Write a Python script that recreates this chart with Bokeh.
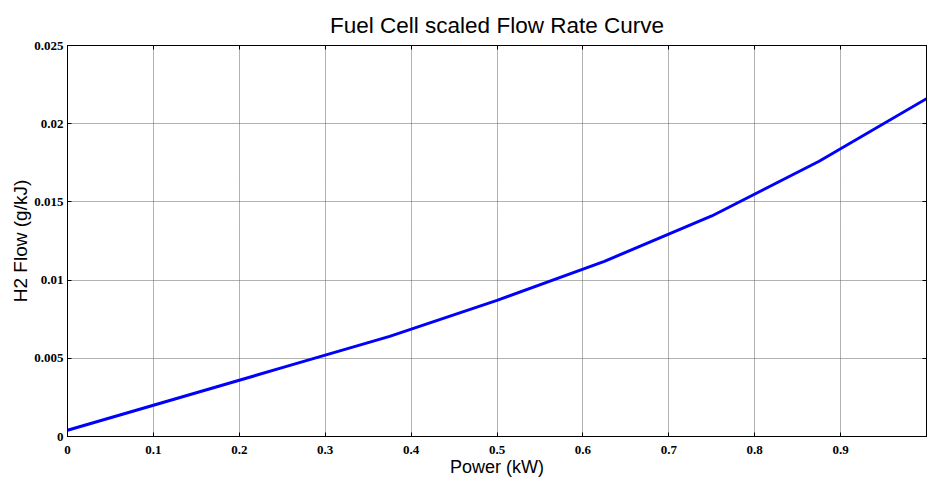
from bokeh.plotting import figure
from bokeh.models import LinearAxis, FixedTicker, Range1d
from bokeh.embed import file_html
from bokeh.resources import INLINE

# ---- data ----
power_kw = [0.0, 0.125, 0.25, 0.375, 0.5, 0.625, 0.75, 0.875, 1.0]
h2_flow = [0.0004, 0.0024, 0.0044, 0.0064, 0.0087, 0.0112, 0.0141, 0.0176, 0.0216]

x_ticks = [0.0, 0.1, 0.2, 0.3, 0.4, 0.5, 0.6, 0.7, 0.8, 0.9]
x_tick_labels = ["0", "0.1", "0.2", "0.3", "0.4", "0.5", "0.6", "0.7", "0.8", "0.9"]
y_ticks = [0.0, 0.005, 0.01, 0.015, 0.02, 0.025]
y_tick_labels = ["0", "0.005", "0.01", "0.015", "0.02", "0.025"]

title_text = "Fuel Cell scaled Flow Rate Curve"
x_label = "Power (kW)"
y_label = "H2 Flow (g/kJ)"

p = figure(width=927, height=479, output_backend="svg", toolbar_location=None,
           x_range=Range1d(0.0, 1.0), y_range=Range1d(0.0, 0.025),
           title=title_text, x_axis_label=x_label, y_axis_label=y_label,
           min_border_left=67, min_border_right=1, min_border_top=45,
           min_border_bottom=40, background_fill_color="white",
           border_fill_color="white")

p.title.text_font = "Liberation Sans"
p.title.text_font_size = "22.5px"
p.title.text_font_style = "normal"
p.title.align = "center"
p.title.text_color = "black"
p.title.standoff = 16

p.outline_line_color = "black"
p.outline_line_width = 1
p.outline_line_alpha = 1.0

tick_font = "Liberation Serif"

for ax in p.xaxis:
    ax.ticker = FixedTicker(ticks=x_ticks)
    ax.major_label_overrides = dict(zip(x_ticks, x_tick_labels))
for ax in p.yaxis:
    ax.ticker = FixedTicker(ticks=y_ticks)
    ax.major_label_overrides = dict(zip(y_ticks, y_tick_labels))

for ax in list(p.xaxis) + list(p.yaxis):
    ax.major_tick_in = 4
    ax.major_tick_out = 0
    ax.minor_tick_in = 0
    ax.minor_tick_out = 0
    ax.axis_line_color = "black"
    ax.major_tick_line_color = "black"
    ax.major_label_text_font = tick_font
    ax.major_label_text_font_style = "bold"
    ax.major_label_text_font_size = "13px"
    ax.major_label_text_color = "black"
    ax.axis_label_text_font = "Liberation Sans"
    ax.axis_label_text_font_style = "normal"
    ax.axis_label_text_color = "black"

p.xaxis.axis_label_text_font_size = "18px"
p.yaxis.axis_label_text_font_size = "19px"
p.xaxis.major_label_standoff = 9
p.xaxis.axis_label_standoff = 0
p.yaxis.major_label_standoff = 4
p.yaxis.axis_label_standoff = 0

# top and right axes with inward ticks only (MATLAB style box)
top_axis = LinearAxis(ticker=FixedTicker(ticks=x_ticks),
                      major_label_overrides={t: "" for t in x_ticks},
                      major_tick_in=4, major_tick_out=0,
                      minor_tick_in=0, minor_tick_out=0,
                      major_label_text_font_size="1px",
                      major_label_standoff=0,
                      axis_line_color="black", major_tick_line_color="black")
right_axis = LinearAxis(ticker=FixedTicker(ticks=y_ticks),
                        major_label_overrides={t: "" for t in y_ticks},
                        major_tick_in=4, major_tick_out=0,
                        minor_tick_in=0, minor_tick_out=0,
                        major_label_text_font_size="1px",
                        major_label_standoff=0,
                        axis_line_color="black", major_tick_line_color="black")
p.add_layout(top_axis, "above")
p.add_layout(right_axis, "right")

for g in list(p.xgrid) + list(p.ygrid):
    g.grid_line_color = "#555555"
    g.grid_line_dash = "1 1"
    g.grid_line_width = 1
    g.grid_line_alpha = 0.9

p.xgrid.ticker = FixedTicker(ticks=x_ticks)
p.ygrid.ticker = FixedTicker(ticks=y_ticks)

p.line(power_kw, h2_flow, line_color="#0000FF", line_width=3)

open("out.html", "w").write(file_html(p, INLINE))
